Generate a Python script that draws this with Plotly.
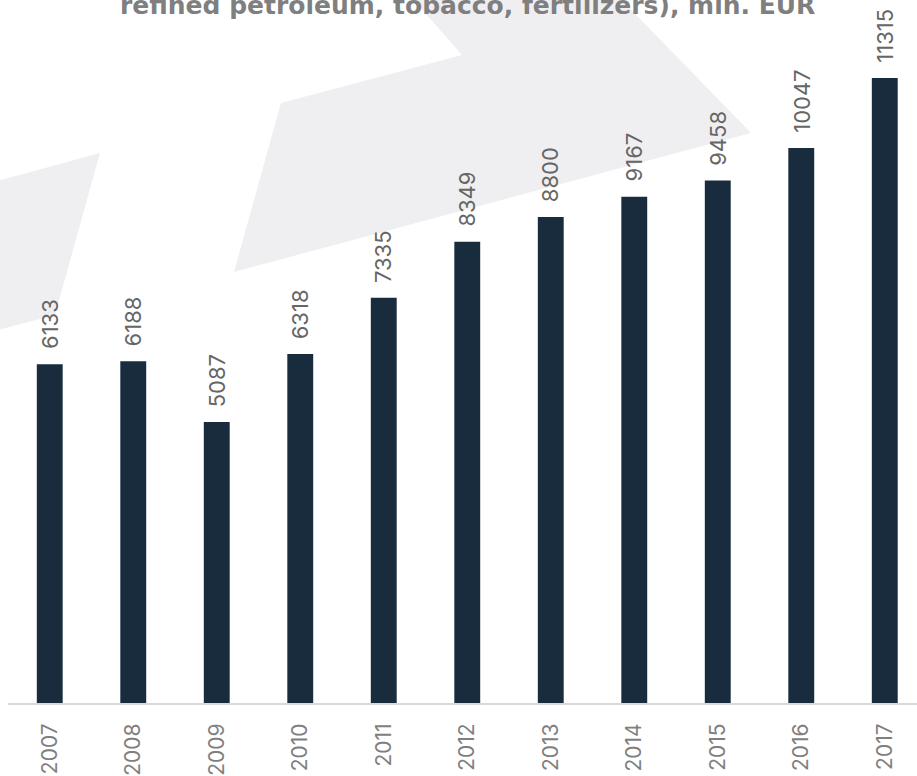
import plotly.graph_objects as go

years = ["2007", "2008", "2009", "2010", "2011", "2012", "2013", "2014", "2015", "2016", "2017"]
values = [6133, 6188, 5087, 6318, 7335, 8349, 8800, 9167, 9458, 10047, 11315]
title_text = "refined petroleum, tobacco, fertilizers), mln. EUR"

W, H = 917, 776
ML, MR, MT, MB = 8, 0, 0, 73
PW, PH = W - ML - MR, H - MT - MB


def px2paper(px, py):
    return (px - ML) / PW, (H - MB - py) / PH


def poly(points):
    pts = [px2paper(x, y) for x, y in points]
    return "M " + " L ".join(f"{x:.4f},{y:.4f}" for x, y in pts) + " Z"


deco = [
    [(-10, 183), (100, 153), (55, 315), (-10, 332)],
    [(405, -10), (612, -10), (751, 133), (234, 272), (281, 103), (462, 55)],
]

fig = go.Figure()
fig.add_trace(go.Bar(
    x=years, y=values, width=0.31,
    marker=dict(color="#182c3d", line=dict(width=0)),
    hoverinfo="x+y",
))

for i, v in enumerate(values):
    fig.add_annotation(x=i, y=v, text=str(v), showarrow=False, textangle=-90,
                       xanchor="center", yanchor="bottom", yshift=13,
                       font=dict(family="Inter", size=22, color="#666666"))

fig.add_annotation(x=px2paper(467, 0)[0], y=px2paper(0, 22)[1], xref="paper", yref="paper",
                   text="<b>" + title_text + "</b>", showarrow=False,
                   xanchor="center", yanchor="bottom",
                   font=dict(family="DejaVu Sans", size=25, color="#7f7f7f"))

for p in deco:
    fig.add_shape(type="path", path=poly(p), xref="paper", yref="paper",
                  fillcolor="#efeff2", line=dict(width=0), layer="below")

fig.update_layout(
    width=W, height=H,
    margin=dict(l=ML, r=MR, t=MT, b=MB, autoexpand=False),
    paper_bgcolor="white", plot_bgcolor="rgba(0,0,0,0)",
    showlegend=False,
    xaxis=dict(type="category", range=[-0.5, 10.386], showline=True, linecolor="#d9d9d9",
               linewidth=2, showgrid=False, zeroline=False, ticks="", tickangle=-90,
               ticklabelstandoff=10, automargin=False,
               tickfont=dict(family="Inter", size=21, color="#7f7f7f")),
    yaxis=dict(range=[0, 12727], visible=False, showgrid=False, zeroline=False,
               automargin=False),
)

fig.write_html("out.html", config={"displayModeBar": False},
               post_script="document.body.style.margin='0px';document.body.style.overflow='hidden';")
